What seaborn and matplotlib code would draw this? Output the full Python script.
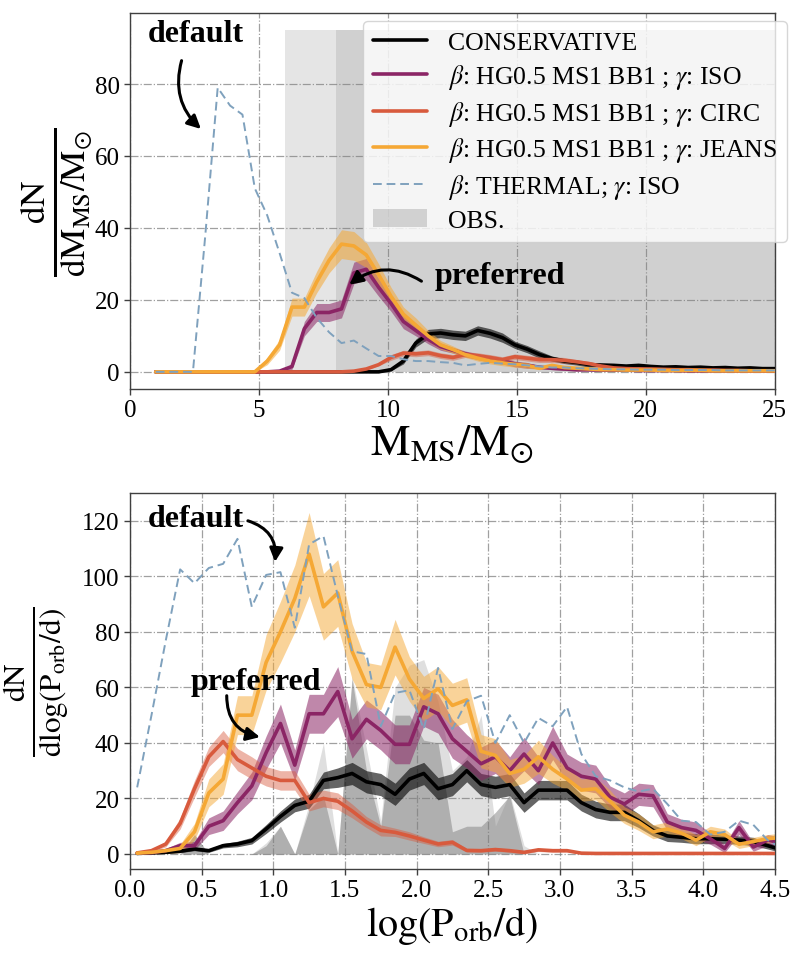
import numpy as np
import matplotlib
matplotlib.use("Agg")
import matplotlib.pyplot as plt
import seaborn as sns
from matplotlib.lines import Line2D
from matplotlib.patches import Patch

# ---- top panel: main-sequence companion mass ----
m_ms = np.linspace(1, 25, 51)

cons_m = [0]*19 + [0.6, 3, 8, 10.5, 10.8, 10.3, 10, 11.5, 10.7, 9.5, 7.5, 6.3, 4.8, 3.7, 3.0, 2.6,
                   2.0, 1.9, 1.8, 1.6, 1.8, 1.5, 1.3, 1.4, 1.2, 1.3, 1.1, 1.2, 1.0, 1.1, 0.9, 0.9]
cons_m_err = [0]*19 + [0.3, 0.8, 1.1] + [1.3]*7 + [1.0]*3 + [0.7]*4 + [0.4]*15

iso_m = [0]*10 + [0.2, 1.5, 12, 16.5, 16.5, 17.5, 27.5, 28.5, 23.5, 19, 14, 11.5, 9, 7, 6, 5, 4.2,
                  3.5, 3, 2.2, 1.8, 1.3, 1.0, 0.8, 0.6, 0.6, 0.5, 0.5, 0.5, 0.4, 0.4, 0.4, 0.4,
                  0.3, 0.3, 0.3, 0.3, 0.3, 0.3, 0.3, 0.3]
iso_m_err = [0]*11 + [0.8, 2, 2.5, 2.5, 2.5, 3, 3, 2.5, 2.2, 2, 1.5, 1.2, 1] + [0.8]*7 + [0.4]*20

circ_m = [0]*16 + [0.2, 0.8, 2, 4, 5.2, 5.0, 5.3, 4.5, 4.0, 4.8, 4.5, 4.0, 3.4, 4.2, 3.8, 3.4, 3.4,
                   3.2, 2.8, 2.3, 1.6, 1.1, 0.9, 0.8, 0.8, 0.7, 0.6, 0.6, 0.5, 0.5, 0.4, 0.4,
                   0.3, 0.3, 0.3]
circ_m_err = [0]*16 + [0.3]*3 + [0.8]*15 + [0.6]*4 + [0.3]*13

jeans_m = [0]*9 + [3, 7.5, 18, 18, 25, 31, 35.5, 35, 32.5, 27, 21, 16, 13, 10, 7.5, 6.2, 4.8, 3.8,
                   3.0, 2.5, 2.1, 1.8, 1.0, 1.8, 1.2, 1.0, 0.8, 0.6, 0.6, 0.5, 0.5, 0.5, 0.4,
                   0.4, 0.4, 0.4, 0.3, 0.3, 0.3, 0.3, 0.3, 0.3]
jeans_m_err = [0]*9 + [1, 1.5, 2.5, 2.5, 3, 3.5, 4, 4, 3.5, 3, 2.5, 2, 2, 1.5, 1.2, 1] + [0.8]*6 + [0.4]*20

thermal_m = [0, 0, 0, 0, 38, 79, 74, 71.5, 51, 43.5, 33, 22, 20.5, 15, 11, 8, 8.7, 6.5, 4.4, 4.4,
             3.5, 3, 3, 2.7, 2.5, 1.8, 2.2, 2.5, 2.3, 2.1, 1.8, 1.5, 1.2, 1.2, 1.0, 0.9, 0.8,
             0.7, 0.7, 0.6, 0.6, 0.6, 0.5, 0.5, 0.5, 0.5, 0.4, 0.4, 0.4, 0.4, 0.4]

obs_m_start = [6, 8]
obs_m_end = 26
obs_m_height = 95

# ---- bottom panel: orbital period ----
logp = np.linspace(0.05, 4.55, 46)

cons_p = [0.2, 0.4, 0.6, 1, 1.8, 1.2, 3, 3.6, 4.8, 9, 13.5, 17.5, 19, 26.5, 27.5,
          29, 26, 25, 21.5, 27, 29, 23.5, 25, 30, 25, 24, 25, 18.5, 23, 23,
          23, 18.5, 16, 15, 15, 12, 8.5, 6.5, 6, 5.5, 5.5, 5.3, 5, 4.5, 3, 1.5]
cons_p_err = [0.2, 0.3, 0.4, 0.5, 0.6, 0.6, 0.8, 1, 1.2, 1.6, 2, 2.3, 2.5, 3, 3.5,
              4, 4, 4, 4, 4, 4, 4, 4, 4, 4, 4, 4, 3.5, 3.5, 3.5,
              3.5, 3, 3, 3, 3, 2.5, 2, 2, 1.8, 1.8, 1.8, 1.5, 1.5, 1.5, 1.2, 1]

iso_p = [0.3, 0.5, 1.2, 3, 3, 10, 12, 18.5, 24.5, 36.5, 47, 32, 50.5, 50.5, 58.5,
         41.5, 48.5, 44.5, 39.5, 39.5, 53, 50.5, 41.5, 37, 32.5, 35, 30, 36, 30, 40,
         31, 28, 27, 20.5, 18, 21.5, 21, 11.5, 9.5, 8.5, 5.5, 2, 9.5, 2.5, 5, 4]
iso_p_err = [0.3, 0.5, 0.8, 1.2, 1.5, 3, 3.5, 4, 5, 6, 7, 5.5, 7, 7, 9,
             7, 7, 7, 7, 7, 7, 7, 7, 6, 6, 6, 5, 6, 5, 6,
             5, 5, 5, 4, 4, 4, 4, 3, 3, 3, 2, 1.5, 2.5, 1.5, 2, 2]

circ_p = [0.4, 1.2, 3.6, 11, 23.5, 35, 40.5, 34, 31, 28, 26.5, 26.5, 18.5, 20, 19,
          15.5, 11.5, 8.5, 7.8, 6.5, 5, 3.6, 4.2, 1.3, 1.2, 1.6, 1.2, 0.6, 1.5, 1.2,
          1.2, 0.3] + [0.2]*14
circ_p_err = [0.3, 0.5, 1, 2, 3, 3.5, 4, 4, 4, 3.5, 3.5, 3.5, 3, 3, 3,
              2.5, 2, 2, 1.5, 1.5, 1.2, 1, 1, 0.6, 0.6, 0.6, 0.6, 0.5, 0.6, 0.6,
              0.5, 0.3] + [0.2]*14

jeans_p = [0.3, 0.6, 1.2, 2, 8, 22, 27, 50, 50, 69, 80, 92, 108, 89, 94,
           73, 61, 60, 74.5, 63, 56, 59.5, 53.5, 55.5, 37, 35.5, 29, 30.5, 35, 30.5,
           27, 23, 23.5, 19, 14, 11.5, 8, 9, 7.5, 5, 8, 7, 3.5, 4.5, 5.5, 6]
jeans_p_err = [0.5, 0.5, 1, 1.5, 3, 5, 5.5, 7, 7, 10, 11, 12, 15, 12, 12,
               10, 8, 8, 10, 8, 8, 8, 8, 8, 6, 6, 5, 5, 6, 5,
               4, 4, 4, 4, 3, 3, 2.5, 2.5, 2, 2, 2, 2, 1.5, 1.5, 1.5, 1.5]

thermal_p = [24, 50, 77, 102.5, 97.5, 103, 104.5, 113.5, 89, 100.5, 101.5, 81.5, 111.5, 114.5, 93,
             73, 72, 46, 58, 59, 45, 67, 45, 55, 57, 40, 50, 40, 49, 46,
             53, 36, 28, 26.5, 24, 22.5, 23.5, 18, 12, 11.5, 7, 8, 12, 10.5, 5, 2]

obs_p_hi = [0, 0, 0, 0, 7, 0, 0, 0, 0, 4, 10, 0, 18, 40, 0,
            64, 38, 12, 60, 68, 70, 55, 30, 35, 50, 10, 22, 3] + [0]*18
obs_p_lo = [0, 0, 0, 0, 7, 0, 0, 0, 0, 3, 10, 0, 16, 21, 0,
            63, 30, 10, 50, 50, 41, 40, 8, 10, 10, 15, 21, 0] + [0]*18

c_cons, c_iso, c_circ, c_jeans, c_th = "black", "#8b2565", "#d85a3d", "#f5a835", "#7fa1bd"

sns.set_theme(style="white")
plt.rcParams["font.family"] = ["Liberation Serif", "DejaVu Serif"]
plt.rcParams["mathtext.fontset"] = "stix"
plt.rcParams["text.color"] = "black"
plt.rcParams["axes.labelcolor"] = "black"
plt.rcParams["xtick.color"] = "black"
plt.rcParams["ytick.color"] = "black"

fig = plt.figure(figsize=(8, 9.7), dpi=100)
ax1 = fig.add_axes([0.1625, 0.598, 0.806, 0.3876])
ax2 = fig.add_axes([0.1625, 0.1031, 0.806, 0.3876])


def draw_model(ax, x, y, err, color, band_alpha):
    y = np.asarray(y, float)
    err = np.asarray(err, float)
    ax.fill_between(x, y - err, y + err, color=color, alpha=band_alpha, lw=0, zorder=2)
    sns.lineplot(x=x, y=y, ax=ax, color=color, lw=2.6, zorder=3)


def style_axis(ax):
    ax.grid(True, linestyle="-.", color="gray", alpha=0.75, lw=0.9)
    for s in ax.spines.values():
        s.set_color("0.25")
        s.set_linewidth(1.0)
    ax.tick_params(labelsize=18, direction="out", length=4, width=1, color="0.25",
                   labelcolor="black", bottom=True, left=True)


# top panel
for x0 in obs_m_start:
    ax1.fill_between([x0, obs_m_end], 0, obs_m_height, color="gray", alpha=0.2, lw=0, zorder=1)
draw_model(ax1, m_ms, cons_m, cons_m_err, c_cons, 0.6)
draw_model(ax1, m_ms, iso_m, iso_m_err, c_iso, 0.55)
draw_model(ax1, m_ms, circ_m, circ_m_err, c_circ, 0.45)
draw_model(ax1, m_ms, jeans_m, jeans_m_err, c_jeans, 0.55)
sns.lineplot(x=m_ms, y=thermal_m, ax=ax1, color=c_th, lw=1.4,
             linestyle=(0, (4.5, 2.5)), zorder=3)
ax1.set_xlim(0, 25)
ax1.set_ylim(-4.75, 99.75)
ax1.set_xticks([0, 5, 10, 15, 20, 25])
ax1.set_yticks([0, 20, 40, 60, 80])
style_axis(ax1)
ax1.set_xlabel(r"$\mathrm{M_{MS}/M_{\odot}}$", fontsize=32, labelpad=1)
ax1.set_ylabel(r"$\frac{\mathrm{dN}}{\mathrm{dM_{MS}/M_{\odot}}}$", fontsize=36, labelpad=0)

handles = [
    Line2D([], [], color=c_cons, lw=2.6),
    Line2D([], [], color=c_iso, lw=2.6),
    Line2D([], [], color=c_circ, lw=2.6),
    Line2D([], [], color=c_jeans, lw=2.6),
    Line2D([], [], color=c_th, lw=1.4, linestyle=(0, (4.5, 2.5))),
    Patch(facecolor="gray", alpha=0.3, lw=0),
]
labels = [
    "CONSERVATIVE",
    r"$\beta$: HG0.5 MS1 BB1 ; $\gamma$: ISO",
    r"$\beta$: HG0.5 MS1 BB1 ; $\gamma$: CIRC",
    r"$\beta$: HG0.5 MS1 BB1 ; $\gamma$: JEANS",
    r"$\beta$: THERMAL; $\gamma$: ISO",
    "OBS.",
]
leg = ax1.legend(handles, labels, loc="upper right", bbox_to_anchor=(1.019, 0.979),
                 borderaxespad=0, fontsize=18.5, handlelength=2.1, labelspacing=0.3,
                 frameon=True)
leg.set_zorder(5)

ax1.text(2.54, 94, "default", fontsize=23, fontweight="bold", ha="center", va="center", zorder=6)
ax1.annotate("", xy=(2.75, 67.5), xytext=(2.0, 86.5),
             arrowprops=dict(arrowstyle="-|>", color="black", lw=2.2, mutation_scale=20,
                             connectionstyle="arc3,rad=0.3", shrinkA=0, shrinkB=0), zorder=6)
ax1.text(14.34, 26.9, "preferred", fontsize=23, fontweight="bold", ha="center", va="center", zorder=6)
ax1.annotate("", xy=(8.5, 24.2), xytext=(11.3, 25.2),
             arrowprops=dict(arrowstyle="-|>", color="black", lw=2.2, mutation_scale=20,
                             connectionstyle="arc3,rad=0.35", shrinkA=0, shrinkB=0), zorder=6)

# bottom panel
ax2.fill_between(logp, 0, obs_p_hi, color="gray", alpha=0.25, lw=0, zorder=1)
ax2.fill_between(logp, 0, obs_p_lo, color="gray", alpha=0.5, lw=0, zorder=1)
draw_model(ax2, logp, cons_p, cons_p_err, c_cons, 0.6)
draw_model(ax2, logp, iso_p, iso_p_err, c_iso, 0.55)
draw_model(ax2, logp, circ_p, circ_p_err, c_circ, 0.45)
draw_model(ax2, logp, jeans_p, jeans_p_err, c_jeans, 0.5)
sns.lineplot(x=logp, y=thermal_p, ax=ax2, color=c_th, lw=1.4,
             linestyle=(0, (4.5, 2.5)), zorder=3)
ax2.set_xlim(0, 4.5)
ax2.set_ylim(-5.4, 130)
ax2.set_xticks(np.arange(0, 4.51, 0.5))
ax2.set_xticklabels([f"{t:.1f}" for t in np.arange(0, 4.51, 0.5)])
ax2.set_yticks([0, 20, 40, 60, 80, 100, 120])
style_axis(ax2)
ax2.set_xlabel(r"$\mathrm{log(P_{orb}/d)}$", fontsize=29, labelpad=2)
ax2.set_ylabel(r"$\frac{\mathrm{dN}}{\mathrm{dlog(P_{orb}/d)}}$", fontsize=32, labelpad=8)

ax2.text(0.457, 121, "default", fontsize=23, fontweight="bold", ha="center", va="center", zorder=6)
ax2.annotate("", xy=(1.012, 105.2), xytext=(0.823, 120),
             arrowprops=dict(arrowstyle="-|>", color="black", lw=2.2, mutation_scale=20,
                             connectionstyle="arc3,rad=-0.4", shrinkA=0, shrinkB=0), zorder=6)
ax2.text(0.879, 62.2, "preferred", fontsize=23, fontweight="bold", ha="center", va="center", zorder=6)
ax2.annotate("", xy=(0.907, 42.1), xytext=(0.675, 57),
             arrowprops=dict(arrowstyle="-|>", color="black", lw=2.2, mutation_scale=20,
                             connectionstyle="arc3,rad=0.4", shrinkA=0, shrinkB=0), zorder=6)

fig.savefig("out.png", dpi=100)
